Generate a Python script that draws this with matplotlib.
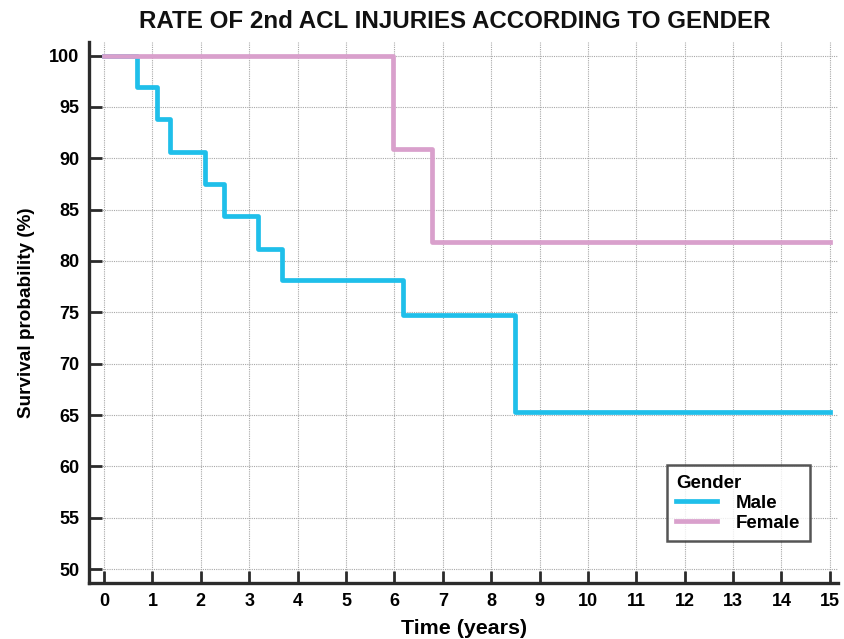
import matplotlib.pyplot as plt

# Kaplan-Meier steps
male_time = [0, 0.68, 1.1, 1.37, 2.08, 2.48, 3.19, 3.67, 6.18, 8.5, 15]
male_surv = [100, 96.9, 93.8, 90.6, 87.5, 84.4, 81.2, 78.1, 74.7, 65.3, 65.3]
female_time = [0, 5.97, 6.78, 15]
female_surv = [100, 90.9, 81.8, 81.8]

x_ticks = list(range(0, 16))
y_ticks = list(range(50, 101, 5))

male_color = "#1fbfea"
female_color = "#d9a0cc"
dark = "#2b2b2b"

plt.rcParams["font.family"] = ["Liberation Sans", "DejaVu Sans"]
plt.rcParams["font.weight"] = "bold"

fig = plt.figure(figsize=(8.44, 6.39), dpi=100)
ax = fig.add_axes([0.1055, 0.0876, 0.8875, 0.8464])

ax.step(male_time, male_surv, where="post", color=male_color, lw=3.4, label="Male", zorder=3)
ax.step(female_time, female_surv, where="post", color=female_color, lw=3.4, label="Female", zorder=3)

ax.set_xlim(-0.31, 15.17)
ax.set_ylim(48.65, 101.3)
ax.set_xticks(x_ticks)
ax.set_yticks(y_ticks)

ax.grid(True, color="#a8a8a8", linestyle=(0, (1, 1)), linewidth=0.8)
ax.set_axisbelow(True)

for side in ["top", "right"]:
    ax.spines[side].set_visible(False)
for side in ["left", "bottom"]:
    ax.spines[side].set_linewidth(2.4)
    ax.spines[side].set_color(dark)

ax.tick_params(axis="both", direction="in", length=9, width=2, color=dark,
               labelsize=13, pad=7)
for lab in ax.get_xticklabels() + ax.get_yticklabels():
    lab.set_fontweight("bold")

ax.set_xlabel("Time (years)", fontsize=15.4, fontweight="bold", labelpad=7)
ax.set_ylabel("Survival probability (%)", fontsize=13.6, fontweight="bold", labelpad=10)

fig.text(0.539, 0.966, "RATE OF 2nd ACL INJURIES ACCORDING TO GENDER",
         ha="center", va="center", fontsize=17.4, fontweight="bold", color="#111111")

leg = ax.legend(title="Gender", loc="lower right", bbox_to_anchor=(0.962, 0.0776),
                borderaxespad=0, frameon=True, fancybox=False, edgecolor=dark,
                fontsize=13.5, title_fontsize=13.5, handlelength=2.2, borderpad=0.5,
                labelspacing=0.15, handletextpad=1.0)
leg.get_frame().set_linewidth(1.8)
leg._legend_box.align = "left"
for t in leg.get_texts():
    t.set_fontweight("bold")
leg.get_title().set_fontweight("bold")

fig.savefig("out.png", dpi=100)
